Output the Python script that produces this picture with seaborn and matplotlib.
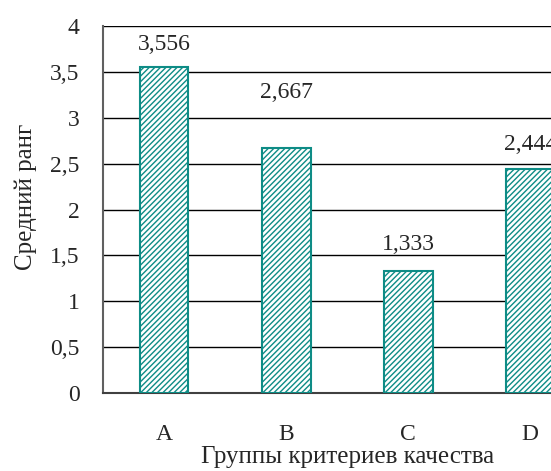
import numpy as np
import pandas as pd
import seaborn as sns
import matplotlib.pyplot as plt

sns.set_style("white")
plt.rcParams["font.family"] = ["Liberation Serif", "DejaVu Serif"]
plt.rcParams["hatch.linewidth"] = 1.0

groups = ["A", "B", "C", "D"]
mean_rank = [3.556, 2.667, 1.333, 2.444]
value_labels = ["3,556", "2,667", "1,333", "2,444"]
y_ticks = [0, 0.5, 1, 1.5, 2, 2.5, 3, 3.5, 4]
y_tick_labels = ["0", "0,5", "1", "1,5", "2", "2,5", "3", "3,5", "4"]

# label offset above bar top, in pixels (Excel put B higher)
label_offsets = [22, 56, 26, 24]

df = pd.DataFrame({"group": groups, "rank": mean_rank})

teal = "#0E8C86"

fig = plt.figure(figsize=(5.51, 4.71), dpi=100)
ax = fig.add_axes([0.187, 0.1656, 0.886, 0.779])

sns.barplot(data=df, x="group", y="rank", ax=ax, width=0.4,
            color="white", edgecolor=teal, linewidth=1.5, zorder=3)
for patch in ax.patches:
    patch.set_hatch("//////")
    patch.set_facecolor("white")
    patch.set_edgecolor(teal)

ax.set_xlim(-0.5, 3.5)
ax.set_ylim(0, 4)
ax.set_yticks(y_ticks)
ax.set_yticklabels(y_tick_labels, fontsize=17)
ax.yaxis.grid(True, color="black", linewidth=1.0, zorder=0)
ax.set_axisbelow(True)

for i, (val, txt, off) in enumerate(zip(mean_rank, value_labels, label_offsets)):
    ax.annotate(txt, xy=(i, val), xytext=(0, off * 72 / 100),
                textcoords="offset points", ha="center", va="center", fontsize=17)

ax.set_xticks(range(len(groups)))
ax.set_xticklabels(groups, fontsize=17)
ax.set_xticks(np.arange(-0.5, 4, 1), minor=True)
ax.tick_params(axis="x", which="major", length=0, pad=22)
ax.tick_params(axis="x", which="minor", length=6, width=1.2, color="#404040", direction="out")
ax.tick_params(axis="y", length=6, width=1.2, color="#404040", direction="out", pad=11)

for s in ["top", "right"]:
    ax.spines[s].set_visible(False)
ax.spines["left"].set_color("#606060")
ax.spines["left"].set_linewidth(1.5)
ax.spines["bottom"].set_color("#404040")
ax.spines["bottom"].set_linewidth(1.5)

ax.set_xlabel("Группы критериев качества", fontsize=18, labelpad=1)
ax.set_ylabel("Средний ранг", fontsize=18)
ax.yaxis.set_label_coords(-0.135, 0.535)

fig.savefig("out.png", dpi=100)
